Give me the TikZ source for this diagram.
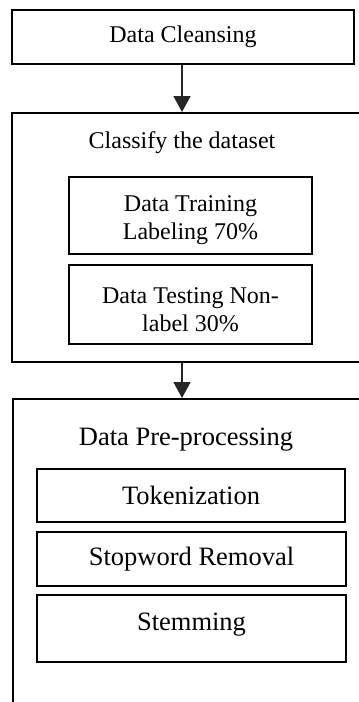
\documentclass[tikz,border=0pt]{standalone}
\usepackage{fontspec}
\setmainfont{Liberation Serif}
\usetikzlibrary{arrows.meta}
\begin{document}
\begin{tikzpicture}[x=1pt,y=-1pt,
  boxa/.style={draw=black,line width=2.6pt,rectangle,inner sep=0pt,align=center,font=\fontsize{24}{28}\selectfont},
  boxb/.style={draw=black,line width=2.6pt,rectangle,inner sep=0pt,align=center,font=\fontsize{26.5}{30}\selectfont},
  inlab/.style={align=center,inner sep=0pt,font=\fontsize{24}{28}\selectfont,yshift=-5pt},
  frame/.style={draw=black,line width=2pt,rectangle,inner sep=0pt},
  title/.style={inner sep=0pt,anchor=center},
  conn/.style={draw=black!85,line width=1.6pt,-{Triangle[width=17pt,length=16pt]}}]
\useasboundingbox (0,0) rectangle (359,702);
\fill[white] (0,0) rectangle (359,702);
\begin{scope}
\clip (0,0) rectangle (359,702);
\node[boxa,minimum width=342pt,minimum height=54pt] (clean) at (183,37) {Data Cleansing};
\node[frame,minimum width=363pt,minimum height=249pt] (classify) at (193.5,237.5) {};
\node[title,font=\fontsize{24}{27}\selectfont] (classifyt) at (182,143) {Classify the dataset};
\node[boxa,minimum width=243pt,minimum height=77pt,label={[inlab]center:Data Training\\Labeling 70\%}] (train) at (190.5,215.5) {};
\node[boxa,minimum width=243pt,minimum height=79pt,label={[inlab]center:Data Testing Non-\\label 30\%}] (test) at (190.5,304.5) {};
\node[frame,minimum width=362pt,minimum height=321pt] (prep) at (194,559.5) {};
\node[title,font=\fontsize{26.5}{30}\selectfont] (prept) at (186,440) {Data Pre-processing};
\node[boxb,minimum width=308pt,minimum height=53pt] (tok) at (191,495.5) {Tokenization};
\node[boxb,minimum width=309pt,minimum height=54pt] (stop) at (191.5,559) {Stopword Removal};
\node[boxb,minimum width=309pt,minimum height=67pt,text depth=14pt] (stem) at (191.5,628.5) {Stemming};
\coordinate (a1) at (clean.south -| 182,0);
\coordinate (a2) at (classify.south -| 182,0);
\draw[conn] (a1) -- (a1 |- classify.north);
\draw[conn] (a2) -- (a2 |- prep.north);
\end{scope}
\end{tikzpicture}
\end{document}
